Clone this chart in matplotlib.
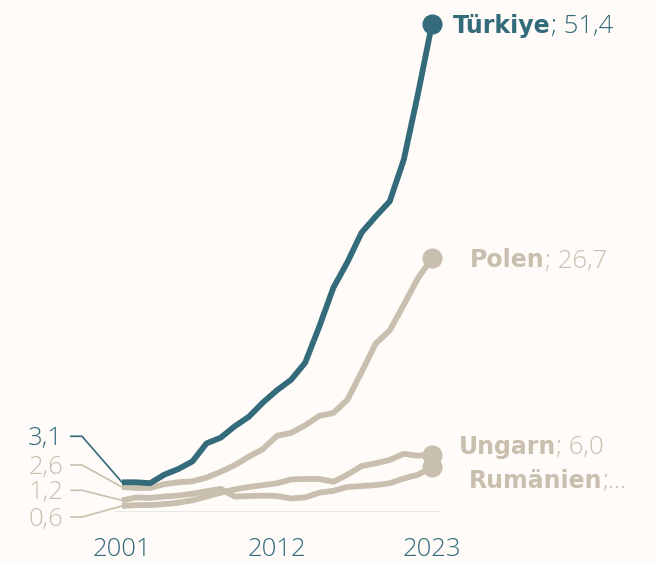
import matplotlib.pyplot as plt
from matplotlib.lines import Line2D

# values per year, 2001-2023
years = list(range(2001, 2024))
tuerkiye = [3.1, 3.1, 3.0, 3.9, 4.5, 5.3, 7.2, 7.8, 9.0, 10.0, 11.5, 12.8, 13.9,
            15.7, 19.5, 23.6, 26.3, 29.4, 31.1, 32.7, 37.1, 44.0, 51.4]
polen = [2.6, 2.5, 2.5, 2.9, 3.1, 3.2, 3.6, 4.2, 4.9, 5.8, 6.6, 8.0, 8.3,
         9.1, 10.1, 10.4, 11.8, 14.7, 17.7, 19.1, 21.8, 24.6, 26.7]
ungarn = [0.6, 0.7, 0.7, 0.8, 0.95, 1.2, 1.6, 2.0, 2.35, 2.6, 2.8, 3.0, 3.4,
          3.45, 3.45, 3.15, 3.9, 4.8, 5.1, 5.45, 6.1, 5.9, 6.0]
rumaenien = [1.2, 1.5, 1.45, 1.6, 1.7, 1.9, 2.15, 2.4, 1.6, 1.65, 1.7, 1.65, 1.4,
             1.5, 2.0, 2.2, 2.6, 2.7, 2.8, 3.0, 3.5, 3.9, 4.7]

tick_years = [2001, 2012, 2023]

teal = '#336b7b'
beige = '#c8bfae'
bg = '#fffbf8'
light = dict(family='Open Sans', fontweight=300, fontsize=18.5)

fig = plt.figure(figsize=(6.56, 5.62), dpi=100, facecolor=bg)
ax = fig.add_axes([115/656, 50.3/562, 325/656, 503/562])
ax.set_facecolor(bg)
ax.set_xlim(2001 - 7/14.09, 2023 + 8/14.09)
ax.set_ylim(0, 53)
for s in ax.spines.values():
    s.set_visible(False)
ax.set_yticks([])
ax.axhline(0, color='#e6e6e4', lw=1.3, zorder=0)

ax.set_xticks(tick_years)
ax.set_xticklabels([str(y) for y in tick_years], color=teal, **light)
ax.tick_params(axis='x', length=0, pad=18)

# series: (name, values, colour, left label offset px, right label offset px)
series = [
    ('Rumänien', rumaenien, beige, 10, (37, -12), ';...'),
    ('Ungarn', ungarn, beige, -11, (27, 10), '; 6,0'),
    ('Polen', polen, beige, 22, (38, 0), '; 26,7'),
    ('Türkiye', tuerkiye, teal, 46, (21, 0), '; 51,4'),
]

fig.canvas.draw()
renderer = fig.canvas.get_renderer()

for i, (name, vals, col, ldy, (rdx, rdy), rest) in enumerate(series):
    ax.plot(years, vals, color=col, lw=4.2, solid_joinstyle='round',
            solid_capstyle='butt', zorder=2 + i, clip_on=False)
    ax.plot(years[-1], vals[-1], 'o', color=col, ms=13.5, zorder=2 + i, clip_on=False)

    # start value on the left with a leader line
    first = f'{vals[0]:.1f}'.replace('.', ',')
    ax.annotate(first, xy=(years[0], vals[0]), xytext=(-59, ldy - 9),
                textcoords='offset pixels', ha='right', va='baseline',
                color=col, annotation_clip=False, **light)
    px, py = ax.transData.transform((years[0], vals[0]))
    pts = [(px - 51, py + ldy), (px - 40, py + ldy), (px, py)]
    pts = fig.transFigure.inverted().transform(pts)
    fig.add_artist(Line2D(pts[:, 0], pts[:, 1], color=col, lw=1.2,
                          transform=fig.transFigure, zorder=1))

    # end label: bold name followed by the value
    t1 = ax.annotate(name, xy=(years[-1], vals[-1]), xytext=(rdx, rdy - 9),
                     textcoords='offset pixels', ha='left', va='baseline',
                     family='DejaVu Sans', fontweight='bold', fontsize=17,
                     color=col, annotation_clip=False)
    w = t1.get_window_extent(renderer).width
    ax.annotate(rest, xy=(years[-1], vals[-1]), xytext=(rdx + w, rdy - 9),
                textcoords='offset pixels', ha='left', va='baseline',
                color=col, annotation_clip=False, **light)

fig.savefig('out.png', dpi=100, facecolor=bg)
